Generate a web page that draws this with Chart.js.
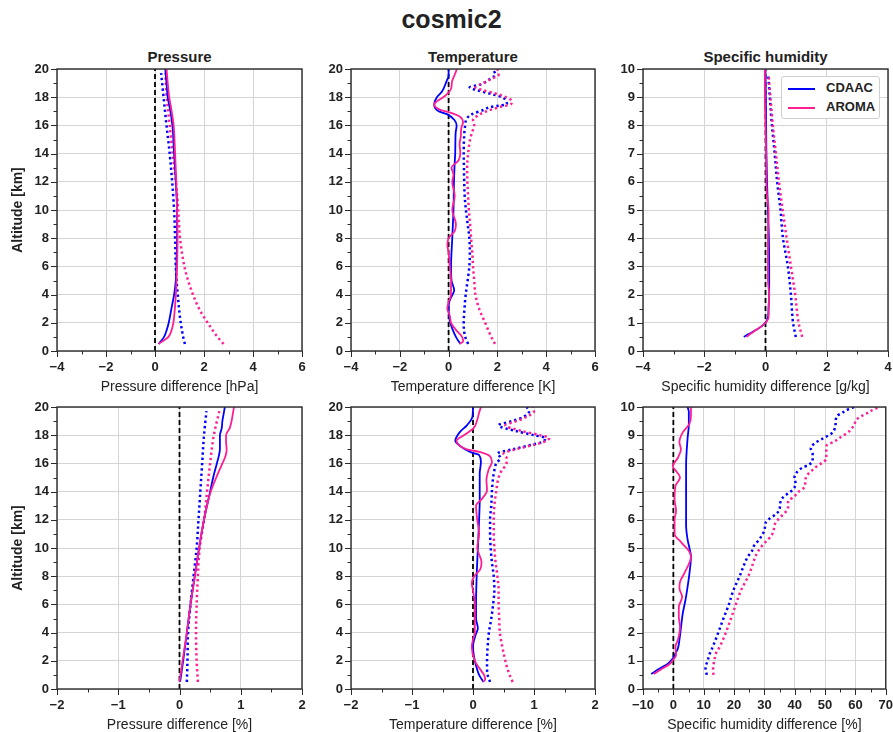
<!DOCTYPE html>
<html>
<head>
<meta charset="utf-8">
<script src="https://cdn.jsdelivr.net/npm/chart.js@4.4.0/dist/chart.umd.min.js"></script>
<style>
  body { margin: 0; background: #fff; width: 893px; height: 732px; position: relative; overflow: hidden;
         font-family: 'Liberation Sans', Arial, sans-serif; color: #222; }
  canvas { position: absolute; }
  .ttl { position: absolute; font-weight: bold; text-align: center; }
  .legend { position: absolute; left: 781px; top: 76px; width: 97px; height: 41px; border: 1px solid #cfcfcf;
            border-radius: 3px; background: #fff; font-weight: bold; font-size: 13px; }
  .legend div { position: absolute; left: 6px; height: 16px; line-height: 16px; }
  .legend span { display: inline-block; width: 27px; height: 2px; vertical-align: middle; margin-right: 11px; }
</style>
</head>
<body>
<div class="ttl" style="left:0;width:903px;top:5px;font-size:25px">cosmic2</div>
<div class="ttl" style="left:57px;width:245px;top:48px;font-size:15px">Pressure</div>
<div class="ttl" style="left:351px;width:244px;top:48px;font-size:15px">Temperature</div>
<div class="ttl" style="left:643px;width:245px;top:48px;font-size:15px">Specific humidity</div>

<script>
// ---- top row: absolute differences ----
// pressure [hPa]
const presAlt      = [0.5, 1, 1.5, 2, 3, 4, 5, 6, 8, 10, 12, 14, 16, 17, 18, 19, 20];
const presCdaac    = [0.15, 0.37, 0.48, 0.56, 0.67, 0.78, 0.85, 0.87, 0.9, 0.9, 0.85, 0.78, 0.71, 0.63, 0.52, 0.47, 0.42];
const presAroma    = [0.15, 0.55, 0.68, 0.75, 0.81, 0.85, 0.88, 0.9, 0.92, 0.9, 0.87, 0.82, 0.76, 0.68, 0.58, 0.52, 0.47];
const presDotAlt   = [0.5, 1, 2, 3, 4, 5, 6, 8, 10, 12, 14, 16, 18, 19.7];
const presCdaacDot = [1.22, 1.15, 1.05, 0.98, 0.93, 0.88, 0.85, 0.82, 0.78, 0.7, 0.6, 0.47, 0.35, 0.25];
const presAromaDot = [2.8, 2.55, 2.15, 1.8, 1.55, 1.35, 1.2, 1.02, 0.95, 0.85, 0.72, 0.6, 0.48, 0.42];

// temperature [K]
const tempCdaacAlt = [0.5, 1, 1.5, 2, 2.5, 3, 3.5, 3.8, 4.3, 5, 6, 8, 10, 12, 13, 14, 15, 15.5, 16, 16.4, 16.8, 17, 17.5, 18, 18.4, 19.2, 19.5, 20];
const tempCdaac    = [0.48, 0.3, 0.17, 0.07, 0.02, 0, 0.03, 0.1, 0.23, 0.12, 0.1, 0.15, 0.2, 0.22, 0.24, 0.27, 0.28, 0.29, 0.33, 0.23, -0.07, -0.41, -0.59, -0.48, -0.27, -0.07, 0, 0];
const tempAromaAlt = [0.5, 0.7, 1, 1.5, 2, 2.5, 3, 3.5, 4, 5, 6, 7, 7.5, 8, 8.5, 9, 10, 11, 12, 12.5, 13, 13.5, 14, 14.7, 15.2, 15.8, 16.2, 16.6, 16.9, 17.1, 17.5, 17.7, 18.1, 18.6, 19.1, 19.5, 20];
const tempAroma    = [0.45, 0.6, 0.55, 0.3, 0.1, 0.05, -0.05, 0, 0.1, 0.1, 0.05, 0, -0.05, 0, 0.25, 0.3, 0.15, 0.25, 0.15, 0.2, 0.12, 0.4, 0.48, 0.45, 0.5, 0.52, 0.59, 0.48, 0.07, -0.34, -0.59, -0.48, -0.14, 0.1, 0.14, 0.23, 0.34];
const tempDotCdaacAlt = [0.5, 1, 1.5, 2, 3, 4, 5, 6, 7, 8, 9, 10, 11, 12, 13, 14, 15, 16, 16.5, 16.8, 17.1, 17.3, 17.4, 17.5, 17.8, 18, 18.2, 18.5, 18.7, 18.9, 19.3, 19.6, 20];
const tempCdaacDot = [0.8, 0.68, 0.63, 0.62, 0.65, 0.7, 0.78, 0.85, 0.87, 0.85, 0.78, 0.71, 0.66, 0.64, 0.63, 0.62, 0.63, 0.68, 0.75, 0.96, 1.44, 1.71, 2.05, 2.39, 2.33, 2.19, 1.8, 1.16, 0.86, 1.3, 1.7, 1.92, 1.8];
const tempDotAromaAlt = [0.5, 1, 1.5, 2, 3, 4, 5, 6, 7, 8, 9, 10, 11, 12, 13, 14, 15, 15.5, 16, 16.4, 16.7, 17, 17.3, 17.5, 17.7, 18, 18.3, 18.5, 18.7, 18.9, 19.3, 19.6, 20];
const tempAromaDot = [1.9, 1.75, 1.62, 1.5, 1.25, 1.1, 1.05, 1.0, 0.97, 0.92, 0.88, 0.83, 0.8, 0.77, 0.76, 0.8, 0.88, 0.96, 1.05, 1.0, 1.2, 1.55, 2.1, 2.55, 2.6, 2.35, 1.85, 1.4, 1.1, 1.3, 1.75, 2.05, 2.0];

// specific humidity [g/kg]
const humCdaacAlt  = [0.5, 0.6, 0.75, 0.9, 1, 1.2, 1.5, 2, 3, 4, 5, 6, 7, 8, 9, 10];
const humCdaac     = [-0.71, -0.55, -0.3, -0.1, 0, 0.08, 0.1, 0.12, 0.12, 0.11, 0.08, 0.05, 0.03, 0.02, 0.01, 0];
const humAromaAlt  = [0.5, 0.6, 0.75, 0.9, 1, 1.2, 1.5, 2, 2.5, 3, 4, 5, 5.5, 6, 7, 8, 9, 10];
const humAroma     = [-0.62, -0.5, -0.3, -0.1, 0, 0.1, 0.1, 0.12, 0.08, 0.08, 0.08, 0.1, 0.05, 0.03, 0.02, 0, -0.02, -0.02];
const humDotAlt    = [0.5, 1, 2, 3, 4, 5, 6, 7, 8, 9, 9.8];
const humCdaacDot  = [0.99, 0.9, 0.83, 0.73, 0.57, 0.49, 0.38, 0.3, 0.21, 0.14, 0.09];
const humAromaDot  = [1.2, 1.08, 0.97, 0.83, 0.69, 0.56, 0.44, 0.34, 0.24, 0.16, 0.1];

// ---- bottom row: relative differences [%] ----
const presPctAlt      = [0.5, 2, 4, 6, 8, 10, 12, 14, 15, 16, 16.5, 17, 17.5, 18, 18.5, 19, 19.5, 20];
const presPctCdaac    = [0.01, 0.06, 0.12, 0.18, 0.25, 0.32, 0.4, 0.5, 0.55, 0.61, 0.64, 0.66, 0.66, 0.66, 0.69, 0.7, 0.72, 0.74];
const presPctAroma    = [0.0, 0.05, 0.12, 0.18, 0.25, 0.32, 0.4, 0.51, 0.6, 0.7, 0.75, 0.77, 0.76, 0.76, 0.82, 0.85, 0.87, 0.89];
const presPctDotAlt   = [0.5, 2, 4, 6, 8, 10, 12, 14, 16, 18, 19.7];
const presPctCdaacDot = [0.12, 0.13, 0.14, 0.18, 0.23, 0.28, 0.31, 0.34, 0.37, 0.4, 0.44];
const presPctAromaDot = [0.3, 0.28, 0.27, 0.28, 0.3, 0.33, 0.4, 0.45, 0.5, 0.56, 0.65];

const tempPctCdaacAlt = [0.5, 1, 1.5, 2, 3, 3.8, 4.3, 5, 6, 8, 10, 12, 13.4, 14.3, 15.3, 16.1, 16.6, 16.8, 17.2, 17.6, 18.2, 18.7, 19.3, 20];
const tempPctCdaac    = [0.17, 0.1, 0.06, 0.03, 0, 0.04, 0.08, 0.05, 0.05, 0.06, 0.08, 0.1, 0.11, 0.11, 0.11, 0.13, 0.1, -0.04, -0.2, -0.29, -0.22, -0.1, -0.01, 0];
const tempPctAromaAlt = [0.5, 0.7, 1, 1.5, 2, 3, 3.5, 4, 5, 6, 7, 7.5, 8, 8.5, 9, 10, 11, 12, 13, 13.5, 14.1, 14.8, 15.6, 16.1, 16.5, 16.8, 17, 17.3, 17.6, 18, 18.5, 19.1, 19.6, 20];
const tempPctAroma    = [0.17, 0.2, 0.18, 0.1, 0.03, -0.02, 0, 0.03, 0.03, 0.03, 0, -0.02, 0.02, 0.12, 0.14, 0.07, 0.1, 0.07, 0.05, 0.15, 0.23, 0.22, 0.26, 0.31, 0.28, 0.12, -0.1, -0.23, -0.27, -0.15, 0.01, 0.07, 0.1, 0.13];
const tempPctDotCdaacAlt = [0.5, 1, 1.5, 2, 3, 4, 5, 6, 7, 8, 9, 10, 11, 12, 13, 14, 15, 15.5, 16, 16.4, 16.7, 17, 17.3, 17.5, 17.8, 18, 18.3, 18.7, 19, 19.3, 19.7, 20];
const tempPctCdaacDot = [0.28, 0.24, 0.23, 0.23, 0.24, 0.26, 0.3, 0.33, 0.35, 0.34, 0.31, 0.29, 0.28, 0.28, 0.3, 0.31, 0.33, 0.35, 0.38, 0.45, 0.4, 0.65, 0.94, 1.12, 1.19, 1.0, 0.7, 0.42, 0.64, 0.83, 0.92, 0.88];
const tempPctDotAromaAlt = [0.5, 1, 1.5, 2, 3, 4, 5, 6, 7, 8, 9, 10, 11, 12, 13, 14, 15, 15.5, 16, 16.4, 16.7, 17, 17.3, 17.5, 17.8, 18, 18.3, 18.7, 19, 19.3, 19.7, 20];
const tempPctAromaDot = [0.65, 0.6, 0.56, 0.53, 0.48, 0.44, 0.43, 0.42, 0.42, 0.4, 0.37, 0.35, 0.34, 0.34, 0.35, 0.38, 0.42, 0.47, 0.55, 0.55, 0.5, 0.7, 0.98, 1.15, 1.25, 1.1, 0.8, 0.53, 0.72, 0.88, 1.0, 0.98];

const humPctCdaacAlt = [0.53, 0.73, 0.9, 1.08, 1.26, 1.44, 1.74, 2.21, 2.68, 3.16, 3.63, 4.1, 4.7, 5.0, 5.3, 5.8, 6.75, 7.93, 8.9, 9.36, 9.83, 10];
const humPctCdaac    = [-7.3, -4.5, -1.8, -0.2, 0.7, 1.5, 2.0, 2.55, 3.1, 4.0, 4.7, 5.3, 5.8, 5.3, 4.7, 4.2, 4.2, 4.2, 4.7, 5.1, 5.1, 4.7];
const humPctAromaAlt = [0.53, 0.7, 0.88, 1.02, 1.2, 1.5, 1.74, 2.2, 2.56, 2.9, 3.27, 3.57, 3.8, 4.1, 4.7, 4.87, 5.2, 5.5, 6.0, 6.33, 6.7, 7.2, 7.5, 7.73, 7.9, 8.2, 8.5, 8.75, 9.1, 9.4, 9.7, 10];
const humPctAroma    = [-6.5, -4, -1.3, -0.2, 0.9, 0.7, 1.5, 2.2, 1.8, 1.8, 2.9, 2.0, 2.2, 3.6, 5.8, 5.3, 2.6, 0.4, 0.4, 0.9, 0.4, 0.7, 2.2, 0.9, -0.2, 1.5, 2.5, 2.0, 3.1, 5.3, 5.8, 5.8];
const humPctDotCdaacAlt = [0.5, 0.75, 1, 1.25, 1.5, 2, 2.5, 3, 3.5, 4.04, 4.35, 4.7, 4.87, 5.08, 5.26, 5.47, 5.66, 5.89, 6.05, 6.19, 6.37, 6.58, 6.79, 6.93, 7.07, 7.28, 7.49, 7.7, 7.84, 7.95, 8.1, 8.34, 8.53, 8.71, 8.83, 8.95, 9.07, 9.27, 9.47, 9.68, 9.8, 9.92, 10];
const humPctCdaacDot = [11, 10.6, 11.3, 12, 13, 14.8, 16.5, 18.3, 19.8, 22.0, 23.1, 24.6, 25.8, 26.6, 28.0, 29.3, 30.1, 30.4, 31.8, 33.7, 35.0, 35.2, 36.1, 37.7, 39.4, 40.3, 39.9, 40.8, 42.4, 44.6, 45.9, 45.9, 45.3, 46.5, 48.4, 50.4, 52.2, 53.3, 53.5, 53.9, 55.7, 57.7, 59.6];
const humPctDotAromaAlt = [0.5, 0.75, 1, 1.25, 1.5, 2, 2.5, 3, 3.5, 4.05, 4.65, 4.85, 5.06, 5.24, 5.44, 5.65, 5.83, 6.07, 6.22, 6.42, 6.66, 6.81, 6.98, 7.17, 7.37, 7.57, 7.75, 7.9, 8.02, 8.16, 8.4, 8.64, 8.77, 8.9, 9.03, 9.16, 9.37, 9.56, 9.7, 9.8, 9.92, 10];
const humPctAromaDot = [13.2, 13.1, 13.5, 14, 15.3, 17.3, 19, 20.6, 22.3, 24.9, 26.9, 27.7, 29.1, 30.6, 32.3, 33.1, 33.4, 35.0, 36.5, 37.8, 37.8, 39.7, 41.1, 43.3, 43.5, 44.0, 45.7, 47.3, 49.0, 50.4, 50.4, 50.5, 53.0, 54.7, 56.6, 58.2, 59.6, 60.4, 62.4, 64.2, 66.1, 68.0];

const BLUE = '#0000ff';
const PINK = '#ff1f93';
const FONT = "'Liberation Sans', Arial, sans-serif";

const colLeft = [57, 351, 643];
const colWidth = [245, 244, 245];
const rowTop = [69, 407];
const plotH = 282;

function pts(alt, val) {
  return val.map((v, i) => ({x: v, y: alt[i]}));
}

function range(a, b, s) {
  const out = [];
  for (let v = a; v <= b + 1e-9; v += s) out.push(Math.round(v * 1000) / 1000);
  return out;
}

const fmt = v => (v < 0 ? '\u2212' : '') + Math.abs(v);

// box around the plot + major / minor tick marks (matplotlib style)
const frameTicks = {
  id: 'frameTicks',
  afterDraw(chart) {
    const {ctx, chartArea: a} = chart;
    const o = chart.options.plugins.frameTicks;
    const xs = chart.scales.x, ys = chart.scales.y;
    ctx.save();
    ctx.strokeStyle = '#2a2a2a';
    ctx.lineWidth = 1;
    ctx.beginPath();
    range(xs.min, xs.max, o.xMinor).forEach(v => {
      const p = Math.round(xs.getPixelForValue(v)) + 0.5;
      const len = Math.abs(v / o.xMajor - Math.round(v / o.xMajor)) < 1e-6 ? 6 : 3.5;
      ctx.moveTo(p, a.bottom);
      ctx.lineTo(p, a.bottom + len);
    });
    range(ys.min, ys.max, o.yMinor).forEach(v => {
      const p = Math.round(ys.getPixelForValue(v)) + 0.5;
      const len = Math.abs(v / o.yMajor - Math.round(v / o.yMajor)) < 1e-6 ? 6 : 3.5;
      ctx.moveTo(a.left, p);
      ctx.lineTo(a.left - len, p);
    });
    ctx.stroke();
    ctx.lineWidth = 1.4;
    ctx.strokeRect(a.left, a.top, a.right - a.left, a.bottom - a.top);
    ctx.restore();
  }
};

const panels = [
  {col: 0, row: 0, x: [-4, 6, 2, 1], y: [20, 2, 1], xTitle: 'Pressure difference [hPa]', yTitle: true,
   series: [[presAlt, presAroma, PINK, false], [presAlt, presCdaac, BLUE, false],
            [presDotAlt, presAromaDot, PINK, true], [presDotAlt, presCdaacDot, BLUE, true]]},
  {col: 1, row: 0, x: [-4, 6, 2, 1], y: [20, 2, 1], xTitle: 'Temperature difference [K]',
   series: [[tempAromaAlt, tempAroma, PINK, false], [tempCdaacAlt, tempCdaac, BLUE, false],
            [tempDotAromaAlt, tempAromaDot, PINK, true], [tempDotCdaacAlt, tempCdaacDot, BLUE, true]]},
  {col: 2, row: 0, x: [-4, 4, 2, 1], y: [10, 1, 0.5], xTitle: 'Specific humidity difference [g/kg]',
   series: [[humAromaAlt, humAroma, PINK, false], [humCdaacAlt, humCdaac, BLUE, false],
            [humDotAlt, humAromaDot, PINK, true], [humDotAlt, humCdaacDot, BLUE, true]]},
  {col: 0, row: 1, x: [-2, 2, 1, 0.5], y: [20, 2, 1], xTitle: 'Pressure difference [%]', yTitle: true,
   series: [[presPctAlt, presPctAroma, PINK, false], [presPctAlt, presPctCdaac, BLUE, false],
            [presPctDotAlt, presPctAromaDot, PINK, true], [presPctDotAlt, presPctCdaacDot, BLUE, true]]},
  {col: 1, row: 1, x: [-2, 2, 1, 0.5], y: [20, 2, 1], xTitle: 'Temperature difference [%]',
   series: [[tempPctAromaAlt, tempPctAroma, PINK, false], [tempPctCdaacAlt, tempPctCdaac, BLUE, false],
            [tempPctDotAromaAlt, tempPctAromaDot, PINK, true], [tempPctDotCdaacAlt, tempPctCdaacDot, BLUE, true]]},
  {col: 2, row: 1, x: [-10, 70, 10, 5], y: [10, 1, 0.5], xTitle: 'Specific humidity difference [%]',
   series: [[humPctAromaAlt, humPctAroma, PINK, false], [humPctCdaacAlt, humPctCdaac, BLUE, false],
            [humPctDotAromaAlt, humPctAromaDot, PINK, true], [humPctDotCdaacAlt, humPctCdaacDot, BLUE, true]]}
];

panels.forEach(p => {
  const padTop = 18, padRight = 14, yW = 57, xH = 48;
  const w = yW + colWidth[p.col] + padRight;
  const h = padTop + plotH + xH;
  const cv = document.createElement('canvas');
  cv.width = w; cv.height = h;
  cv.style.width = w + 'px'; cv.style.height = h + 'px';
  cv.style.left = (colLeft[p.col] - yW) + 'px';
  cv.style.top = (rowTop[p.row] - padTop) + 'px';
  document.body.appendChild(cv);

  const datasets = p.series.map(([alt, val, color, dotted]) => ({
    data: pts(alt, val),
    borderColor: color,
    borderWidth: dotted ? 2.5 : 1.8,
    borderDash: dotted ? [2.3, 3.0] : [],
    cubicInterpolationMode: 'monotone',
    pointRadius: 0
  }));
  datasets.push({
    data: [{x: 0, y: 0}, {x: 0, y: p.y[0]}],
    borderColor: '#000', borderWidth: 1.8, borderDash: [5, 3], pointRadius: 0
  });

  const [xMin, xMax, xMajor, xMinor] = p.x;
  const [yMax, yMajor, yMinor] = p.y;

  new Chart(cv, {
    type: 'line',
    data: {datasets},
    options: {
      responsive: false,
      animation: false,
      indexAxis: 'y',
      layout: {padding: {top: padTop, right: padRight, left: 0, bottom: 0}},
      plugins: {
        legend: {display: false},
        tooltip: {enabled: false},
        frameTicks: {xMajor, xMinor, yMajor, yMinor}
      },
      scales: {
        x: {
          type: 'linear', position: 'bottom', min: xMin, max: xMax,
          afterBuildTicks: s => { s.ticks = range(xMin, xMax, xMajor).map(v => ({value: v})); },
          afterFit: s => { s.height = xH; },
          grid: {color: '#d5d5d5', lineWidth: 1, drawTicks: false},
          border: {display: false},
          ticks: {autoSkip: false, maxRotation: 0, padding: 9, color: '#222',
                  font: {family: FONT, size: 13, weight: 'bold'}, callback: fmt},
          title: {display: true, text: p.xTitle, color: '#222', padding: {top: 0, bottom: 3},
                  font: {family: FONT, size: 14}}
        },
        y: {
          type: 'linear', position: 'left', min: 0, max: yMax,
          afterBuildTicks: s => { s.ticks = range(0, yMax, yMajor).map(v => ({value: v})); },
          afterFit: s => { s.width = yW; },
          grid: {color: '#d5d5d5', lineWidth: 1, drawTicks: false},
          border: {display: false},
          ticks: {autoSkip: false, padding: 8, color: '#222',
                  font: {family: FONT, size: 13, weight: 'bold'}, callback: fmt},
          title: {display: !!p.yTitle, text: 'Altitude [km]', color: '#222', padding: {top: 10, bottom: 0},
                  font: {family: FONT, size: 14, weight: 'bold'}}
        }
      }
    },
    plugins: [frameTicks]
  });
});
</script>

<div class="legend">
  <div style="top:3px"><span style="background:#0000ff"></span>CDAAC</div>
  <div style="top:22px"><span style="background:#ff1f93"></span>AROMA</div>
</div>
</body>
</html>
